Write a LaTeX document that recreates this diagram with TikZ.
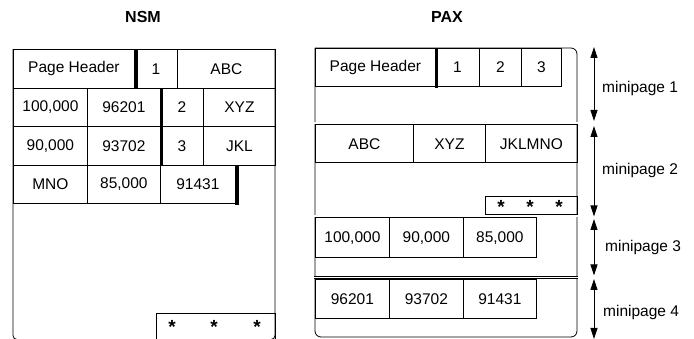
\documentclass[tikz,border=0pt]{standalone}
\usepackage{fontspec}
\setmainfont{Liberation Sans}
\usetikzlibrary{arrows.meta}
\tikzset{
  cell/.style={draw, line width=0.8pt, anchor=north west, inner sep=0pt,
    font=\fontsize{15.5}{18}\selectfont},
  wh/.style 2 args={minimum width=#1pt, minimum height=#2pt},
  outline/.style={draw, line width=0.8pt},
  thickbar/.style={line width=3.2pt},
  sepline/.style={draw, line width=0.7pt, double, double distance=1.3pt},
  starmark/.style={inner sep=0pt, anchor=base, font=\fontsize{19}{22}\selectfont\bfseries},
  title/.style={font=\fontsize{16}{19}\selectfont\bfseries},
  lbl/.style={anchor=west, inner sep=0pt, font=\fontsize{15.5}{18}\selectfont},
  span/.style={line width=0.8pt, {Triangle[length=11pt,width=7pt]}-{Triangle[length=11pt,width=7pt]}}
}
\begin{document}
\begin{tikzpicture}[x=1pt,y=-1pt]
\useasboundingbox (0,0) rectangle (694,339);
% ---------- NSM ----------
\node[title] (tnsm) at (143,17) {NSM};
\draw[outline, rounded corners=4pt] (275,49) -- (275,339.5) -- (13,339.5) -- (13,49);
\node[cell, wh={121}{39}] (nph) at (13,49) {Page Header};
\node[cell, wh={43}{39}] (nonecell) at (134,49) {1};
\node[cell, wh={98}{39}] (nabc) at (177,49) {ABC};
\node[cell, wh={74}{38}] (na1) at (13,88) {100,000};
\node[cell, wh={73}{38}] (na2) at (87,88) {96201};
\node[cell, wh={43}{38}] (na3) at (160,88) {2};
\node[cell, wh={72}{38}] (na4) at (203,88) {XYZ};
\node[cell, wh={74}{39}] (nb1) at (13,126) {90,000};
\node[cell, wh={73}{39}] (nb2) at (87,126) {93702};
\node[cell, wh={43}{39}] (nb3) at (160,126) {3};
\node[cell, wh={72}{39}] (nb4) at (203,126) {JKL};
\node[cell, wh={74}{38}] (nc1) at (13,165) {MNO};
\node[cell, wh={73}{38}] (nc2) at (87,165) {85,000};
\node[cell, wh={75}{38}] (nc3) at (160,165) {91431};
\draw[thickbar] ([xshift=1.2pt]nph.north east) -- ([xshift=1.2pt]nph.south east);
\draw[thickbar] ([xshift=0.5pt]na2.north east) -- ([xshift=0.5pt]nb2.south east);
\draw[thickbar] ([xshift=1.2pt]nc3.north east) -- ([xshift=1.2pt,yshift=-1pt]nc3.south east);
\node[cell, wh={119}{32}] (nstars) at (156,313) {};
\node[starmark] (ns1) at (172,333.5) {*};
\node[starmark] (ns2) at (214,333.5) {*};
\node[starmark] (ns3) at (257,333.5) {*};
% ---------- PAX ----------
\node[title] (tpax) at (447,17) {PAX};
\draw[outline, rounded corners=6pt] (315,48) -- (577,48) -- (577,337) -- (315,337) -- (315,48);
\node[cell, wh={120}{38}] (pph) at (315,48) {Page Header};
\node[cell, wh={44}{38}] (pone) at (435,48) {1};
\node[cell, wh={42}{38}] (ptwo) at (479,48) {2};
\node[cell, wh={40}{38}] (pthree) at (521,48) {3};
\draw[thickbar] ([xshift=0.8pt]pph.north east) -- ([xshift=0.8pt,yshift=-1.5pt]pph.south east);
\draw[sepline] (314,123) -- (578,123);
\node[cell, wh={98}{38}] (pabc) at (315,124.5) {ABC};
\node[cell, wh={72}{38}] (pxyz) at (413,124.5) {XYZ};
\node[cell, wh={92}{38}] (pjk) at (485,124.5) {JKLMNO};
\node[cell, wh={92}{18.5}] (pstars) at (485,196) {};
\node[starmark] (ps1) at (501,213.5) {*};
\node[starmark] (ps2) at (530,213.5) {*};
\node[starmark] (ps3) at (559,213.5) {*};
\draw[sepline] (314,216) -- (578,216);
\node[cell, wh={74}{39.5}] (pa1) at (315,217.5) {100,000};
\node[cell, wh={74}{39.5}] (pa2) at (389,217.5) {90,000};
\node[cell, wh={73}{39.5}] (pa3) at (463,217.5) {85,000};
\draw[sepline] (314,277.5) -- (578,277.5);
\node[cell, wh={74}{39}] (pb1) at (315,279) {96201};
\node[cell, wh={74}{39}] (pb2) at (389,279) {93702};
\node[cell, wh={73}{39}] (pb3) at (463,279) {91431};
% ---------- minipage arrows ----------
\coordinate (m1a) at (594,47);
\coordinate (m1b) at (594,121);
\coordinate (m2a) at (594,126);
\coordinate (m2b) at (594,216.5);
\coordinate (m3a) at (594,219);
\coordinate (m3b) at (594,275.5);
\coordinate (m4a) at (594,279);
\coordinate (m4b) at (594,339);
\draw[span] (m1a) -- (m1b);
\draw[span] (m2a) -- (m2b);
\draw[span] (m3a) -- (m3b);
\draw[span] (m4a) -- (m4b);
\node[lbl] (l1) at (602,88) {minipage 1};
\node[lbl] (l2) at (602,170) {minipage 2};
\node[lbl] (l3) at (605,247) {minipage 3};
\node[lbl] (l4) at (603,312) {minipage 4};
\end{tikzpicture}
\end{document}
